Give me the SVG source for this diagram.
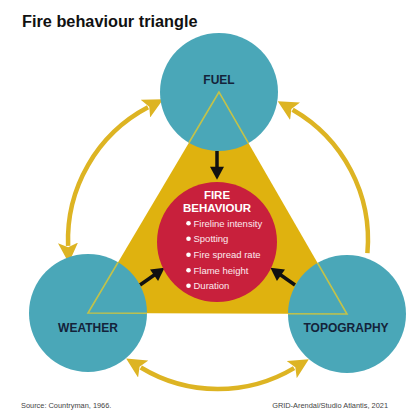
<svg xmlns="http://www.w3.org/2000/svg" width="416" height="418" viewBox="0 0 416 418">
  <style>
    .title { font-family: "Liberation Sans", Arial, sans-serif; font-weight: bold; font-size: 16.3px; fill: #111; }
    .node { fill: #4AA7B8; }
    .label { font-family: "Liberation Sans", Arial, sans-serif; font-weight: bold; font-size: 12px; fill: #14233a; text-anchor: middle; }
    .head { font-family: "Liberation Sans", Arial, sans-serif; font-weight: bold; font-size: 11.5px; fill: #fff; text-anchor: middle; }
    .item { font-family: "Liberation Sans", Arial, sans-serif; font-size: 9.5px; fill: #fbe9ee; }
    .dot { fill: #fff; }
    .foot { font-family: "Liberation Sans", Arial, sans-serif; font-size: 7.4px; fill: #444; }
    .arc { fill: none; stroke: #DDB423; stroke-width: 4.5; }
    .blk { fill: none; stroke: #111; stroke-width: 3.5; }
  </style>
  <defs>
    <marker id="ya" markerUnits="userSpaceOnUse" markerWidth="20" markerHeight="20" refX="2" refY="7" orient="auto-start-reverse" viewBox="0 0 14 14">
      <path d="M0,0 L14,7 L0,14 L3,7 z" fill="#DDB423"/>
    </marker>
    <marker id="ba" markerUnits="userSpaceOnUse" markerWidth="14" markerHeight="14" refX="1" refY="6" orient="auto" viewBox="0 0 11 12">
      <path d="M0,0 L11,6 L0,12 z" fill="#111"/>
    </marker>
    <clipPath id="cc">
      <circle cx="219" cy="92" r="59"/>
      <circle cx="88" cy="313" r="59"/>
      <circle cx="347" cy="314" r="59"/>
    </clipPath>
  </defs>

  <rect width="416" height="418" fill="#fff"/>
  <text class="title" x="22" y="27">Fire behaviour triangle</text>

  <polygon id="triangle" points="219,92 88,313 347,314" fill="#DFB20F"/>

  <g id="connectors">
    <path class="arc" d="M68.1,245.8 A150,150 0 0 1 148.0,107.3" marker-start="url(#ya)" marker-end="url(#ya)"/>
    <path class="arc" d="M367.4,253.1 A150,150 0 0 0 292.6,109.8" marker-end="url(#ya)"/>
    <path class="arc" d="M294.1,368.1 A149,149 0 0 1 140.8,367.5" marker-start="url(#ya)" marker-end="url(#ya)"/>
    <path class="blk" d="M217,151 L217,168" marker-end="url(#ba)"/>
    <path class="blk" d="M140,285 L155,274.5" marker-end="url(#ba)"/>
    <path class="blk" d="M295,285 L280,274.5" marker-end="url(#ba)"/>
  </g>

  <g id="fuel">
    <circle class="node" cx="219" cy="92" r="59"/>
    <text class="label" x="219" y="83.5">FUEL</text>
  </g>
  <g id="weather">
    <circle class="node" cx="88" cy="313" r="59"/>
    <text class="label" x="88" y="331.5">WEATHER</text>
  </g>
  <g id="topography">
    <circle class="node" cx="347" cy="314" r="59"/>
    <text class="label" x="346" y="331.5">TOPOGRAPHY</text>
  </g>

  <polygon points="219,92 88,313 347,314" fill="none" stroke="#C2C24A" stroke-width="1.6" clip-path="url(#cc)"/>

  <g id="fire-behaviour">
    <circle cx="217" cy="242" r="60" fill="#C8203C"/>
    <text class="head" x="217" y="198.6">FIRE</text>
    <text class="head" x="217" y="212">BEHAVIOUR</text>
    <circle class="dot" cx="188.5" cy="223.3" r="2.3"/>
    <text class="item" x="193.5" y="226.6">Fireline intensity</text>
    <circle class="dot" cx="188.5" cy="238.8" r="2.3"/>
    <text class="item" x="193.5" y="242.1">Spotting</text>
    <circle class="dot" cx="188.5" cy="254.8" r="2.3"/>
    <text class="item" x="193.5" y="258.1">Fire spread rate</text>
    <circle class="dot" cx="188.5" cy="270.2" r="2.3"/>
    <text class="item" x="193.5" y="273.5">Flame height</text>
    <circle class="dot" cx="188.5" cy="285.8" r="2.3"/>
    <text class="item" x="193.5" y="289.1">Duration</text>
  </g>

  <text class="foot" x="21" y="407.5">Source: Countryman, 1966.</text>
  <text class="foot" x="388" y="407.5" text-anchor="end">GRID-Arendal/Studio Atlantis, 2021</text>
</svg>
